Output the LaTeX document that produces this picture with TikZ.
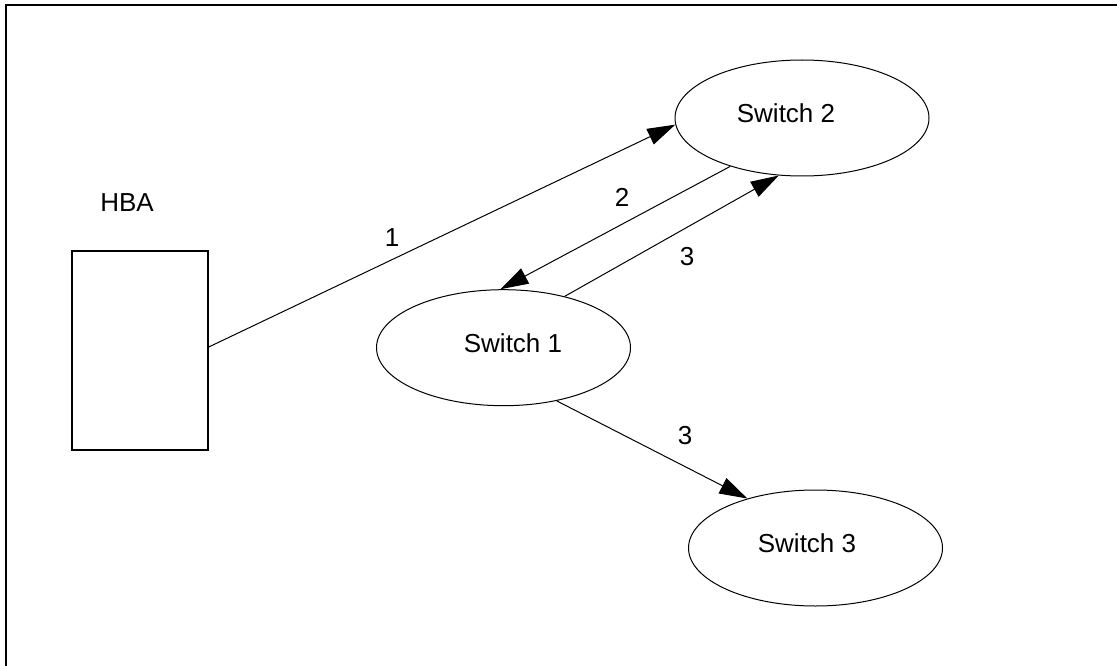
\documentclass[tikz,border=0pt]{standalone}
\usepackage{fontspec}
\setmainfont{Liberation Sans}
\usetikzlibrary{shapes.geometric,arrows.meta}
\begin{document}
\begin{tikzpicture}[x=1pt,y=-1pt,
  every node/.style={font=\fontsize{26}{31}\selectfont},
  sw/.style={draw,ellipse,line width=1pt,minimum width=254pt,minimum height=116pt,inner sep=0pt},
  conn/.style={line width=1pt,-{Triangle[length=28pt,width=17pt]}},
  num/.style={inner sep=0pt}]
\useasboundingbox (0,0) rectangle (1117,666);
% frame (only top and left edges visible)
\coordinate (ftr) at (1117,5);
\coordinate (ftl) at (5.7,5);
\coordinate (fbl) at (5.7,666);
\draw[line width=2pt] (ftr) -- (ftl) -- (fbl);
% HBA
\node[draw,line width=1.5pt,minimum width=136pt,minimum height=199pt,inner sep=0pt] (hba) at (140,350.5) {};
\node[inner sep=0pt] (hbal) at (127,203) {HBA};
% switches
\node[sw,label={[xshift=-16pt,yshift=5pt]center:Switch 2}] (s2) at (802,118) {};
\node[sw,label={[xshift=9.5pt,yshift=4pt]center:Switch 1}] (s1) at (503.5,347.7) {};
\node[sw,label={[xshift=-8.5pt,yshift=5pt]center:Switch 3}] (s3) at (815.5,548) {};
% connectors
\draw[conn] ([yshift=3.5pt]hba.east) -- (s2.183.7);
\draw[conn] (s2.214.6) -- (s1.93);
\draw[conn] (s1.40.9) -- (s2.248.9);
\draw[conn] (s1.-45) -- (s3.144.2);
% labels
\node[num] (l1) at (392,238) {1};
\node[num] (l2) at (622,197) {2};
\node[num] (l3a) at (687,257) {3};
\node[num] (l3b) at (685,436) {3};
\end{tikzpicture}
\end{document}
